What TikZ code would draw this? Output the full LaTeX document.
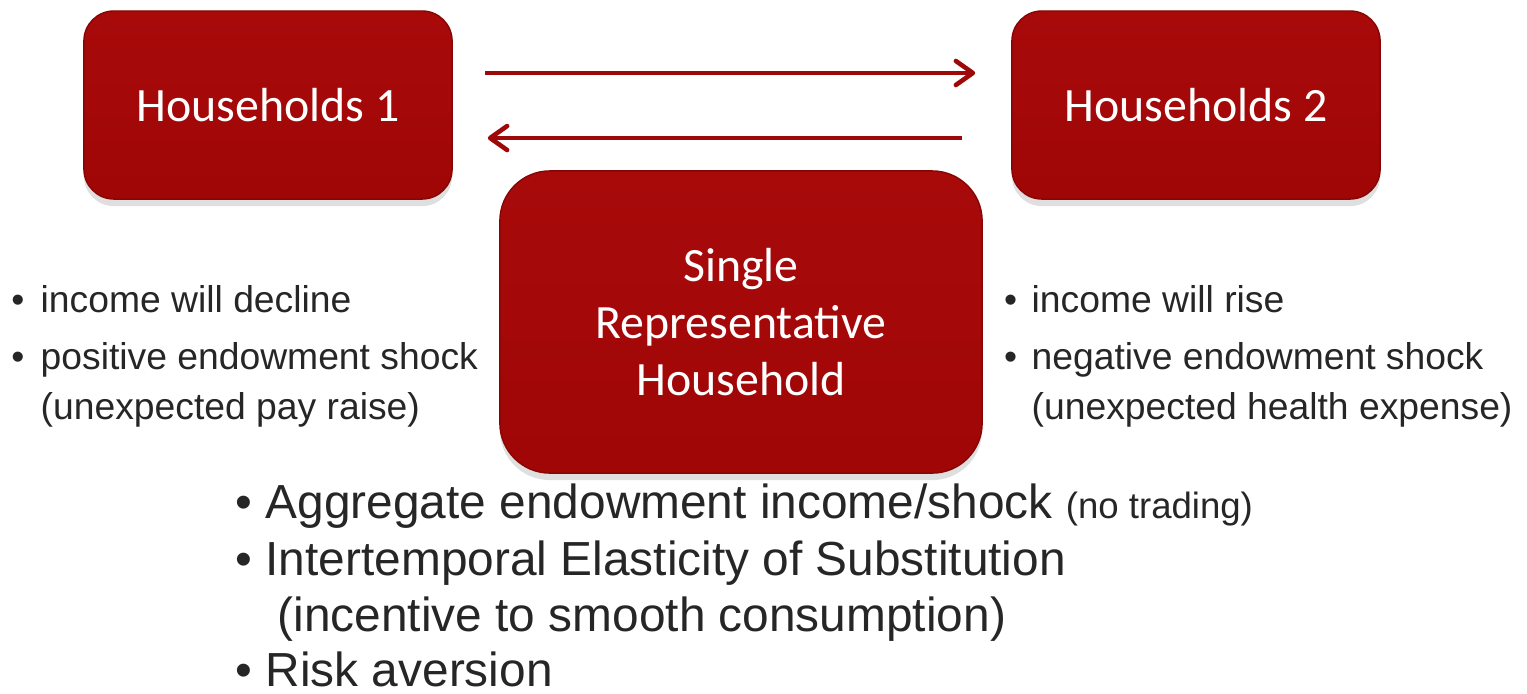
\documentclass[tikz,border=0pt]{standalone}
\usepackage{fontspec}
\setmainfont{Liberation Sans}
\newfontfamily\boxfont{Carlito}
\usepackage{xcolor}
\usetikzlibrary{arrows.meta,positioning,shadows}

\definecolor{boxred}{RGB}{160,6,6}
\definecolor{boxtop}{RGB}{168,10,10}
\definecolor{arrowred}{RGB}{158,8,8}
\definecolor{textgray}{RGB}{38,38,38}
\newcommand{\itembul}[1]{\llap{\textbullet\hspace{#1}}}

\begin{document}
\begin{tikzpicture}[
  x=0.01cm,y=-0.01cm,
  redbox/.style={rounded corners=0.3cm,top color=boxtop,bottom color=boxred,
                 draw=boxred!85!black,line width=0.4pt,
                 drop shadow={shadow xshift=0pt,shadow yshift=-2pt,opacity=0.25},
                 text=white,align=center,
                 font=\boxfont\fontsize{13.6}{16.3}\selectfont},
  hhbox/.style={redbox,minimum width=3.68cm,minimum height=1.88cm},
  repbox/.style={redbox,rounded corners=0.5cm,minimum width=4.82cm,minimum height=3.02cm},
  sidetext/.style={anchor=base west,inner sep=0pt,text=textgray,
                   font=\fontsize{10.6}{12.7}\selectfont},
  maintext/.style={anchor=base west,inner sep=0pt,text=textgray,
                   font=\fontsize{13.6}{16.3}\selectfont},
  flow/.style={-{Straight Barb[length=1.7mm,width=2.4mm,round]},line width=1.3pt,arrowred}
]
\useasboundingbox (0,0) rectangle (1527,693);

% households and the aggregate
\node[hhbox] (hh1) at (268,105) {Households 1};
\node[hhbox] (hh2) at (1196,105) {Households 2};
\node[repbox] (rep) at (741,322) {Single\\Representative\\Household};

\draw[flow,shorten <=0.32cm,shorten >=0.36cm]
  ([yshift=0.32cm]hh1.east) -- ([yshift=0.32cm]hh2.west);
\draw[flow,shorten <=0.49cm,shorten >=0.35cm]
  ([yshift=-0.33cm]hh2.west) -- ([yshift=-0.33cm]hh1.east);

% side notes
\node[sidetext] (dec) at (40,312) {\itembul{4.6pt}income will decline};
\node[sidetext] (pos) at (40,369) {\itembul{4.6pt}positive endowment shock};
\node[sidetext] (pay) at (40,419) {(unexpected pay raise)};

\node[sidetext] (ris) at (1031,312) {\itembul{4.1pt}income will rise};
\node[sidetext] (neg) at (1031,369) {\itembul{4.1pt}negative endowment shock};
\node[sidetext] (hea) at (1031,419) {(unexpected health expense)};

% bottom list
\node[maintext] (agg) at (265,518) {\itembul{3.8pt}Aggregate endowment income/shock
  {\fontsize{10.4}{12}\selectfont(no trading)}};
\node[maintext] (ies) at (265,575) {\itembul{3.8pt}Intertemporal Elasticity of Substitution};
\node[maintext] (inc) at (277,631) {(incentive to smooth consumption)};
\node[maintext] (risk) at (265,686) {\itembul{3.8pt}Risk aversion};
\end{tikzpicture}
\end{document}
